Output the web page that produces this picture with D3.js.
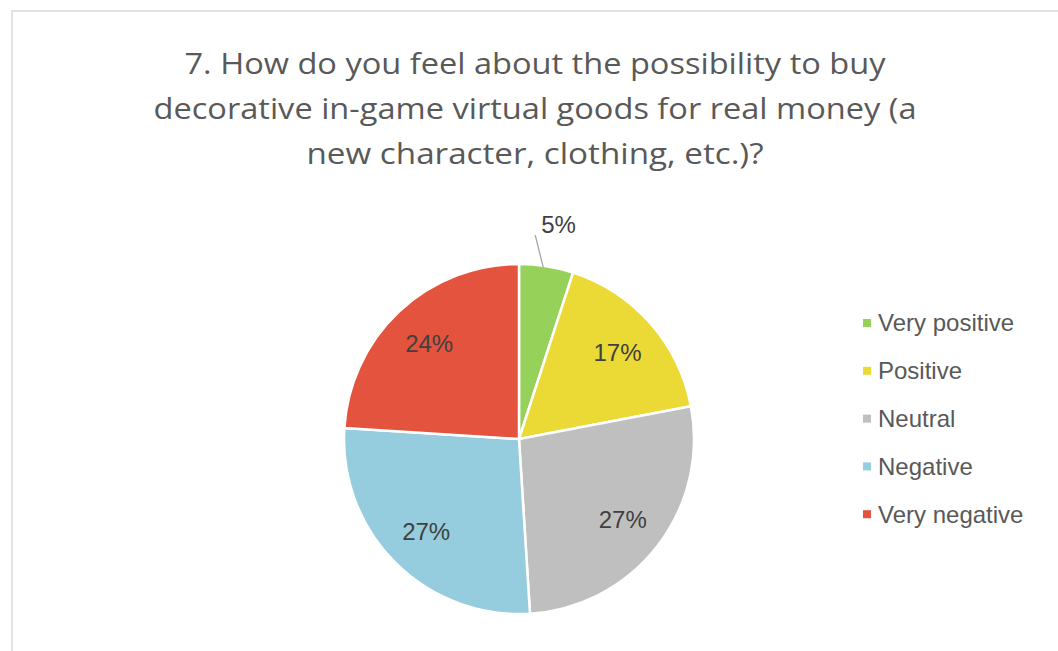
<!DOCTYPE html>
<html>
<head>
<meta charset="utf-8">
<script src="https://cdn.jsdelivr.net/npm/d3@7"></script>
<style>
  html, body { margin: 0; padding: 0; background: #fff; }
  svg { display: block; }
</style>
</head>
<body>
<svg id="chart" width="1058" height="651"></svg>
<script>
// Survey answers and their shares (percent)
const categories = ["Very positive", "Positive", "Neutral", "Negative", "Very negative"];
const shares = [5, 17, 27, 27, 24];
const colors = ["#96d159", "#ebda36", "#bfbfbf", "#95cdde", "#e4533d"];
const titleLines = [
  "7. How do you feel about the possibility to buy",
  "decorative in-game virtual goods for real money (a",
  "new character, clothing, etc.)?"
];

const svg = d3.select("#chart");
const W = 1058, H = 651;

// chart area frame
svg.append("rect")
  .attr("x", 12).attr("y", 11)
  .attr("width", W + 20).attr("height", H + 20)
  .attr("fill", "#fff")
  .attr("stroke", "#d9d9d9").attr("stroke-width", 1.5);

// title
const titleWidths = [701, 763, 457];
const title = svg.append("g");
titleLines.forEach((t, i) => {
  title.append("text")
    .attr("x", 535).attr("y", 74 + i * 45)
    .attr("text-anchor", "middle")
    .attr("font-family", "'Open Sans', 'Noto Sans', sans-serif")
    .attr("font-size", 29)
    .attr("fill", "#595959")
    .attr("textLength", titleWidths[i])
    .attr("lengthAdjust", "spacingAndGlyphs")
    .text(t);
});

// pie
const cx = 519, cy = 439, r = 175;
const data = categories.map((c, i) => ({ name: c, value: shares[i], color: colors[i] }));
const pie = d3.pie().value(d => d.value).sort(null);
const arcs = pie(data);
const arc = d3.arc().innerRadius(0).outerRadius(r);
const labelArc = d3.arc().innerRadius(r * 0.75).outerRadius(r * 0.75);

const g = svg.append("g").attr("transform", `translate(${cx},${cy})`);
g.selectAll("path.slice")
  .data(arcs)
  .join("path")
  .attr("class", "slice")
  .attr("d", arc)
  .attr("fill", d => d.data.color)
  .attr("stroke", "#fff")
  .attr("stroke-width", 2.5)
  .attr("stroke-linejoin", "round");

const labelFont = "'Liberation Sans', Arial, sans-serif";
const labelSize = 24;

// inside labels for the larger slices
g.selectAll("text.inside")
  .data(arcs.filter(d => d.data.value >= 10))
  .join("text")
  .attr("class", "inside")
  .attr("transform", d => `translate(${labelArc.centroid(d)})`)
  .attr("text-anchor", "middle")
  .attr("dy", "0.35em")
  .attr("font-family", labelFont)
  .attr("font-size", labelSize)
  .attr("fill", "#404040")
  .text(d => d.data.value + "%");

// small slice: label outside with a leader line
arcs.filter(d => d.data.value < 10).forEach(d => {
  const mid = (d.startAngle + d.endAngle) / 2;
  const p0 = [Math.sin(mid) * (r - 1) - 3, -Math.cos(mid) * (r - 1)];
  const p1 = [p0[0] - 8, p0[1] - 32];
  g.append("line")
    .attr("x1", p0[0]).attr("y1", p0[1])
    .attr("x2", p1[0]).attr("y2", p1[1])
    .attr("stroke", "#a6a6a6").attr("stroke-width", 1.3);
  g.append("text")
    .attr("x", p1[0] + 6).attr("y", p1[1] - 2)
    .attr("font-family", labelFont)
    .attr("font-size", labelSize)
    .attr("fill", "#404040")
    .text(d.data.value + "%");
});

// legend
const legend = svg.append("g").attr("transform", "translate(863,323)");
const rows = legend.selectAll("g")
  .data(data)
  .join("g")
  .attr("transform", (d, i) => `translate(0,${i * 47.8})`);
rows.append("rect")
  .attr("x", 0).attr("y", -4)
  .attr("width", 8).attr("height", 8)
  .attr("fill", d => d.color);
rows.append("text")
  .attr("x", 15).attr("y", 0)
  .attr("dy", "0.35em")
  .attr("font-family", labelFont)
  .attr("font-size", labelSize)
  .attr("fill", "#595959")
  .text(d => d.name);
</script>
</body>
</html>
